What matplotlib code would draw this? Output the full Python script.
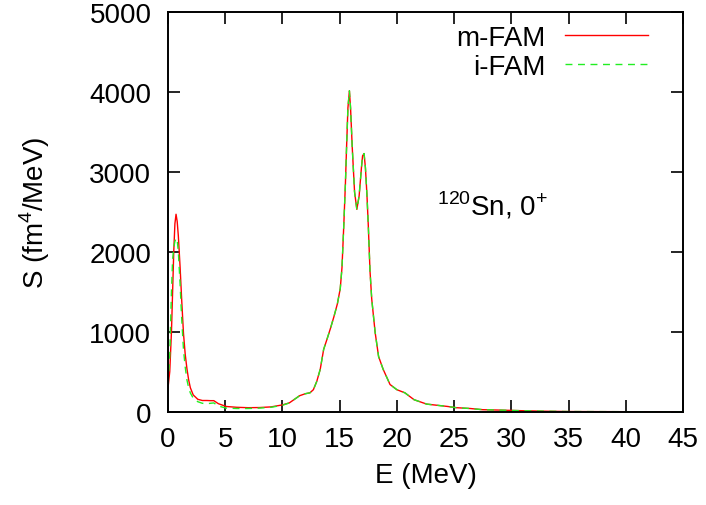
import matplotlib

matplotlib.use("Agg")

import matplotlib.pyplot as plt

plt.rcParams["font.family"] = ["Liberation Sans", "DejaVu Sans"]
plt.rcParams["mathtext.fontset"] = "custom"
plt.rcParams["mathtext.rm"] = "Liberation Sans"

# strength function
energy = [0, 0.15, 0.3, 0.4, 0.5, 0.6, 0.7, 0.8, 0.9, 1.05, 1.2, 1.35, 1.5, 1.65, 1.8, 1.95,
          2.2, 2.6, 3.0, 3.4, 3.7, 4.0, 4.4, 5.1, 6, 7, 8, 9, 10, 10.6, 11, 11.5, 12, 12.4,
          12.7, 13.0, 13.3, 13.6, 13.9, 14.2, 14.5, 14.8, 15.05, 15.2, 15.35, 15.5, 15.6,
          15.72, 15.85, 15.95, 16.1, 16.3, 16.5, 16.7, 16.9, 17.0, 17.13, 17.25, 17.38, 17.5,
          17.65, 17.8, 18.1, 18.4, 18.8, 19.4, 20.0, 20.7, 21.5, 22.6, 24.4, 25.2, 26.4, 27.5,
          29, 31, 33, 35, 40, 45]

high_part = [110, 150, 200, 225, 236, 275, 380, 530, 780, 910, 1045, 1190, 1350, 1540,
             1800, 2300, 2850, 3300, 3800, 4014, 3800, 3300, 2750, 2531, 2700, 3050, 3200,
             3229, 3050, 2720, 2330, 1760, 1410, 990, 690, 530, 340, 275, 236, 150, 95, 66,
             50, 40, 25, 20, 12, 6, 2, 0, 0]

m_fam = [300, 500, 1000, 1500, 2000, 2350, 2470, 2380, 2200, 1820, 1380, 980, 720, 540,
         400, 300, 210, 155, 140, 140, 138, 138, 100, 65, 55, 50, 52, 60, 85] + high_part

i_fam = [350, 700, 1500, 1900, 2050, 2130, 2170, 2150, 2000, 1610, 1150, 780, 560, 400,
         300, 235, 170, 125, 105, 100, 105, 110, 70, 45, 40, 40, 45, 55, 80] + high_part

x_ticks = [0, 5, 10, 15, 20, 25, 30, 35, 40, 45]
y_ticks = [0, 1000, 2000, 3000, 4000, 5000]

fs = 20

fig = plt.figure(figsize=(7.06, 5.06), dpi=100)
ax = fig.add_axes([0.238, 0.1844, 0.7294, 0.7899])

ax.plot(energy, m_fam, color="#ff0000", lw=1.0, label="m-FAM")
ax.plot(energy, i_fam, color="#22ee22", lw=1.0, ls=(0, (5, 4)), label="i-FAM")

ax.set_xlim(0, 45)
ax.set_ylim(0, 5000)
ax.set_xticks(x_ticks)
ax.set_yticks(y_ticks)
ax.tick_params(direction="in", length=8.5, width=1.2, top=True, right=True,
               labelsize=fs)
ax.tick_params(axis="x", pad=10)
ax.tick_params(axis="y", pad=12)
for sp in ax.spines.values():
    sp.set_linewidth(1.4)

ax.set_xlabel("E (MeV)", fontsize=fs)
ax.set_ylabel("S (fm$^4$/MeV)", fontsize=fs)
ax.xaxis.set_label_coords(0.5, -0.126)
ax.yaxis.set_label_coords(-0.225, 0.5)

ax.text(23.5, 2473, "$^{120}$Sn, 0$^{+}$", fontsize=fs, va="baseline")

ax.legend(loc="upper right", frameon=False, markerfirst=False, fontsize=fs,
          handlelength=3.0, handletextpad=0.68, labelspacing=0.1,
          borderpad=0, borderaxespad=0, bbox_to_anchor=(0.932, 0.9675))

fig.savefig("out.png", dpi=100)
